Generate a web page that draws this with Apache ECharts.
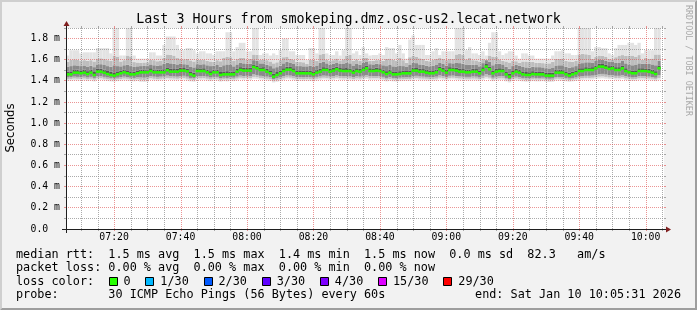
<!DOCTYPE html>
<html><head><meta charset="utf-8">
<script src="https://cdn.jsdelivr.net/npm/echarts@6/dist/echarts.min.js"></script>
<style>html,body{margin:0;padding:0;background:#f2f2f2}#c{width:697px;height:310px}</style>
</head><body><div id="c"></div>
<script>
// ---------------- data ----------------
const titleText = 'Last 3 Hours from smokeping.dmz.osc-us2.lecat.network';
const startTime = '07:05:31';
const endTime = '10:05:31';
const xTickLabels = ['07:20','07:40','08:00','08:20','08:40','09:00','09:20','09:40','10:00'];
const yMajor = [0,0.2,0.4,0.6,0.8,1.0,1.2,1.4,1.6,1.8];
const yMinor = [0.1,0.3,0.5,0.7,0.9,1.1,1.3,1.5,1.7,1.9];
const yMax = 1.9;

// median RTT per minute (ms)
const medianRtt = [
1.462,1.462,1.478,1.478,1.472,1.478,1.465,1.478,1.456,1.487,
1.487,1.478,1.465,1.456,1.450,1.462,1.472,1.481,1.472,1.462,
1.462,1.472,1.481,1.481,1.481,1.493,1.481,1.481,1.481,1.481,
1.500,1.487,1.487,1.487,1.497,1.497,1.490,1.462,1.450,1.493,
1.493,1.493,1.481,1.465,1.481,1.481,1.456,1.462,1.462,1.462,
1.462,1.487,1.503,1.497,1.497,1.497,1.531,1.519,1.503,1.503,
1.487,1.472,1.440,1.456,1.472,1.493,1.506,1.506,1.493,1.472,
1.472,1.472,1.472,1.472,1.462,1.478,1.487,1.503,1.503,1.487,
1.497,1.510,1.497,1.493,1.493,1.493,1.478,1.493,1.487,1.503,
1.519,1.493,1.493,1.497,1.493,1.481,1.465,1.478,1.462,1.462,
1.465,1.472,1.472,1.472,1.497,1.497,1.487,1.487,1.478,1.472,
1.472,1.481,1.510,1.497,1.478,1.503,1.503,1.497,1.487,1.487,
1.481,1.481,1.487,1.487,1.472,1.503,1.535,1.510,1.472,1.487,
1.493,1.493,1.462,1.440,1.472,1.487,1.478,1.462,1.456,1.456,
1.465,1.462,1.462,1.462,1.450,1.450,1.450,1.478,1.478,1.478,
1.462,1.450,1.462,1.472,1.493,1.493,1.503,1.503,1.503,1.519,
1.535,1.535,1.525,1.513,1.519,1.503,1.503,1.519,1.493,1.481,
1.472,1.472,1.493,1.493,1.493,1.487,1.478,1.465,1.520,null];

// lowest ping
const minRtt = [
1.400,1.402,1.405,1.404,1.402,1.405,1.400,1.404,1.395,1.408,
1.410,1.405,1.400,1.396,1.392,1.398,1.402,1.406,1.403,1.398,
1.396,1.400,1.392,1.390,1.394,1.410,1.405,1.402,1.404,1.406,
1.412,1.408,1.406,1.405,1.410,1.412,1.404,1.396,1.392,1.410,
1.408,1.410,1.404,1.398,1.405,1.404,1.394,1.398,1.396,1.400,
1.398,1.406,1.414,1.410,1.412,1.410,1.420,1.418,1.412,1.410,
1.405,1.400,1.385,1.392,1.398,1.408,1.415,1.414,1.408,1.400,
1.402,1.400,1.402,1.400,1.396,1.404,1.408,1.414,1.412,1.406,
1.410,1.416,1.410,1.408,1.410,1.406,1.402,1.408,1.405,1.412,
1.418,1.408,1.410,1.410,1.408,1.404,1.396,1.402,1.396,1.394,
1.398,1.400,1.402,1.400,1.410,1.412,1.406,1.405,1.404,1.400,
1.402,1.405,1.414,1.410,1.404,1.412,1.414,1.410,1.406,1.405,
1.404,1.404,1.406,1.405,1.400,1.410,1.420,1.414,1.398,1.405,
1.408,1.408,1.396,1.385,1.400,1.406,1.402,1.396,1.392,1.394,
1.398,1.396,1.396,1.398,1.392,1.390,1.392,1.404,1.404,1.402,
1.396,1.392,1.396,1.400,1.408,1.410,1.412,1.412,1.414,1.418,
1.422,1.424,1.420,1.416,1.418,1.412,1.412,1.418,1.408,1.404,
1.400,1.402,1.408,1.410,1.408,1.406,1.404,1.398,1.410,null];

// 4th lowest ping
const lo2 = [
1.416,1.418,1.422,1.420,1.418,1.422,1.416,1.420,1.412,1.424,
1.426,1.420,1.416,1.412,1.408,1.414,1.418,1.422,1.420,1.414,
1.412,1.416,1.410,1.408,1.412,1.426,1.420,1.418,1.420,1.422,
1.428,1.424,1.422,1.420,1.426,1.428,1.420,1.412,1.408,1.426,
1.424,1.426,1.420,1.414,1.420,1.420,1.410,1.414,1.412,1.416,
1.414,1.422,1.430,1.426,1.428,1.426,1.438,1.434,1.428,1.426,
1.420,1.416,1.402,1.408,1.414,1.424,1.432,1.430,1.424,1.416,
1.418,1.416,1.418,1.416,1.412,1.420,1.424,1.430,1.428,1.422,
1.426,1.432,1.426,1.424,1.426,1.422,1.418,1.424,1.421,1.428,
1.434,1.424,1.426,1.426,1.424,1.420,1.412,1.418,1.412,1.410,
1.414,1.416,1.418,1.416,1.426,1.428,1.422,1.421,1.420,1.416,
1.418,1.421,1.430,1.426,1.420,1.428,1.430,1.426,1.422,1.421,
1.420,1.420,1.422,1.421,1.416,1.426,1.438,1.430,1.414,1.421,
1.424,1.424,1.412,1.402,1.416,1.422,1.418,1.412,1.408,1.410,
1.414,1.412,1.412,1.414,1.408,1.406,1.408,1.420,1.420,1.418,
1.412,1.408,1.412,1.416,1.424,1.426,1.428,1.428,1.430,1.434,
1.440,1.442,1.438,1.432,1.434,1.428,1.428,1.434,1.424,1.420,
1.416,1.418,1.424,1.426,1.424,1.422,1.420,1.414,1.428,null];

// 8th lowest ping
const lo3 = [
1.432,1.434,1.440,1.438,1.436,1.440,1.432,1.438,1.428,1.444,
1.444,1.438,1.432,1.428,1.424,1.430,1.436,1.440,1.436,1.430,
1.428,1.434,1.432,1.430,1.434,1.446,1.440,1.438,1.440,1.442,
1.450,1.444,1.442,1.440,1.446,1.448,1.440,1.428,1.424,1.446,
1.444,1.446,1.440,1.432,1.438,1.438,1.426,1.430,1.428,1.432,
1.430,1.440,1.450,1.446,1.448,1.446,1.462,1.456,1.448,1.446,
1.440,1.434,1.418,1.424,1.432,1.444,1.452,1.450,1.444,1.434,
1.436,1.434,1.436,1.434,1.430,1.438,1.442,1.450,1.448,1.442,
1.446,1.452,1.446,1.444,1.446,1.442,1.436,1.444,1.440,1.448,
1.456,1.444,1.446,1.446,1.444,1.438,1.428,1.436,1.428,1.426,
1.430,1.432,1.434,1.432,1.446,1.448,1.442,1.440,1.438,1.434,
1.436,1.440,1.452,1.446,1.438,1.448,1.450,1.446,1.442,1.440,
1.438,1.438,1.442,1.440,1.432,1.448,1.464,1.452,1.430,1.440,
1.444,1.444,1.428,1.416,1.432,1.440,1.436,1.428,1.424,1.426,
1.430,1.428,1.428,1.430,1.422,1.420,1.422,1.436,1.436,1.434,
1.428,1.422,1.428,1.432,1.442,1.444,1.448,1.448,1.450,1.456,
1.464,1.466,1.460,1.454,1.456,1.448,1.448,1.456,1.444,1.438,
1.432,1.434,1.444,1.446,1.444,1.440,1.436,1.430,1.454,null];

// 12th lowest ping
const lo4 = [
1.450,1.451,1.466,1.465,1.460,1.466,1.453,1.466,1.445,1.474,
1.475,1.466,1.453,1.444,1.439,1.450,1.460,1.469,1.460,1.450,
1.450,1.460,1.468,1.469,1.470,1.480,1.469,1.469,1.470,1.469,
1.487,1.475,1.474,1.475,1.484,1.485,1.478,1.450,1.439,1.480,
1.481,1.480,1.469,1.453,1.469,1.470,1.445,1.450,1.451,1.450,
1.450,1.475,1.490,1.485,1.484,1.485,1.517,1.506,1.490,1.491,
1.475,1.460,1.429,1.444,1.460,1.480,1.493,1.494,1.481,1.460,
1.460,1.461,1.460,1.460,1.450,1.466,1.475,1.490,1.491,1.475,
1.485,1.497,1.485,1.481,1.480,1.481,1.466,1.480,1.475,1.490,
1.506,1.481,1.480,1.485,1.481,1.469,1.453,1.466,1.450,1.451,
1.453,1.460,1.461,1.460,1.484,1.485,1.475,1.474,1.466,1.460,
1.461,1.469,1.497,1.485,1.466,1.490,1.491,1.485,1.475,1.474,
1.469,1.470,1.475,1.474,1.460,1.490,1.521,1.497,1.460,1.475,
1.480,1.481,1.450,1.429,1.460,1.475,1.466,1.450,1.445,1.444,
1.453,1.450,1.451,1.450,1.439,1.438,1.439,1.466,1.465,1.466,
1.450,1.439,1.450,1.460,1.480,1.481,1.490,1.491,1.490,1.506,
1.521,1.522,1.512,1.500,1.506,1.490,1.491,1.506,1.480,1.469,
1.460,1.461,1.480,1.481,1.480,1.475,1.466,1.453,1.506,null];

// 12th highest ping
const hi4 = [
1.488,1.490,1.504,1.506,1.498,1.505,1.492,1.504,1.484,1.514,
1.515,1.506,1.494,1.486,1.480,1.490,1.498,1.508,1.500,1.490,
1.488,1.498,1.506,1.508,1.505,1.520,1.508,1.506,1.508,1.510,
1.528,1.514,1.512,1.514,1.524,1.522,1.516,1.490,1.478,1.520,
1.518,1.520,1.508,1.492,1.506,1.508,1.484,1.490,1.492,1.488,
1.490,1.514,1.530,1.524,1.522,1.524,1.556,1.546,1.528,1.530,
1.514,1.500,1.470,1.484,1.498,1.520,1.534,1.532,1.520,1.498,
1.500,1.498,1.500,1.498,1.490,1.504,1.514,1.530,1.528,1.514,
1.524,1.536,1.522,1.520,1.522,1.518,1.504,1.520,1.514,1.530,
1.546,1.520,1.518,1.524,1.520,1.508,1.492,1.504,1.490,1.490,
1.492,1.498,1.500,1.498,1.524,1.522,1.514,1.512,1.504,1.498,
1.500,1.508,1.536,1.524,1.504,1.530,1.528,1.524,1.514,1.512,
1.508,1.508,1.514,1.512,1.498,1.530,1.560,1.536,1.498,1.514,
1.520,1.518,1.490,1.468,1.498,1.514,1.504,1.490,1.484,1.482,
1.492,1.488,1.490,1.488,1.478,1.476,1.478,1.504,1.506,1.504,
1.490,1.478,1.488,1.498,1.520,1.520,1.530,1.528,1.530,1.546,
1.562,1.560,1.552,1.540,1.546,1.530,1.530,1.546,1.520,1.508,
1.498,1.500,1.520,1.520,1.518,1.514,1.506,1.492,1.546,null];

// 8th highest ping
const hi3 = [
1.532,1.540,1.548,1.546,1.540,1.546,1.536,1.544,1.530,1.556,
1.558,1.550,1.540,1.534,1.548,1.540,1.538,1.548,1.552,1.540,
1.532,1.538,1.540,1.542,1.540,1.556,1.548,1.544,1.548,1.560,
1.572,1.566,1.562,1.556,1.560,1.558,1.556,1.536,1.528,1.558,
1.556,1.558,1.548,1.540,1.544,1.550,1.534,1.548,1.556,1.550,
1.538,1.556,1.570,1.566,1.560,1.564,1.596,1.590,1.566,1.566,
1.552,1.540,1.520,1.530,1.544,1.566,1.580,1.574,1.560,1.540,
1.540,1.538,1.538,1.544,1.536,1.546,1.572,1.580,1.566,1.552,
1.562,1.574,1.560,1.560,1.570,1.566,1.546,1.560,1.552,1.572,
1.584,1.558,1.556,1.562,1.558,1.548,1.540,1.550,1.538,1.536,
1.546,1.540,1.536,1.550,1.572,1.568,1.556,1.552,1.544,1.538,
1.542,1.550,1.574,1.564,1.546,1.568,1.566,1.574,1.568,1.562,
1.550,1.554,1.552,1.550,1.538,1.568,1.596,1.580,1.548,1.560,
1.562,1.556,1.534,1.516,1.540,1.554,1.544,1.532,1.528,1.526,
1.534,1.530,1.530,1.528,1.520,1.518,1.522,1.546,1.548,1.548,
1.534,1.524,1.530,1.540,1.566,1.568,1.576,1.576,1.570,1.588,
1.604,1.600,1.592,1.580,1.584,1.570,1.574,1.590,1.566,1.556,
1.548,1.550,1.566,1.562,1.560,1.560,1.556,1.548,1.590,null];

// 4th highest ping
const hi2 = [
1.580,1.600,1.604,1.600,1.590,1.596,1.590,1.596,1.584,1.612,
1.614,1.606,1.596,1.588,1.640,1.630,1.584,1.596,1.640,1.632,
1.578,1.574,1.572,1.574,1.576,1.600,1.596,1.586,1.592,1.620,
1.650,1.646,1.640,1.616,1.606,1.604,1.608,1.594,1.584,1.598,
1.600,1.602,1.590,1.584,1.580,1.596,1.586,1.620,1.630,1.624,
1.588,1.606,1.620,1.618,1.600,1.610,1.650,1.648,1.600,1.604,
1.596,1.584,1.566,1.576,1.596,1.624,1.630,1.610,1.600,1.580,
1.578,1.576,1.560,1.600,1.598,1.590,1.650,1.656,1.602,1.590,
1.596,1.612,1.594,1.604,1.640,1.646,1.592,1.604,1.588,1.616,
1.618,1.590,1.590,1.596,1.600,1.590,1.610,1.612,1.600,1.588,
1.620,1.596,1.570,1.624,1.640,1.626,1.614,1.608,1.590,1.586,
1.600,1.610,1.616,1.608,1.596,1.610,1.608,1.650,1.656,1.646,
1.604,1.616,1.596,1.594,1.584,1.606,1.600,1.640,1.630,1.628,
1.604,1.590,1.584,1.574,1.590,1.586,1.570,1.584,1.584,1.578,
1.580,1.572,1.570,1.568,1.566,1.566,1.580,1.610,1.608,1.612,
1.590,1.584,1.580,1.588,1.650,1.656,1.652,1.646,1.610,1.630,
1.640,1.636,1.630,1.610,1.604,1.624,1.640,1.644,1.636,1.640,
1.640,1.630,1.644,1.600,1.616,1.610,1.612,1.650,1.650,null];

// highest ping
const maxRtt = [
1.64,1.69,1.69,1.69,1.66,1.67,1.67,1.67,1.67,1.71,
1.71,1.71,1.71,1.66,1.95,1.95,1.64,1.64,1.95,1.95,
1.64,1.61,1.61,1.61,1.61,1.67,1.67,1.64,1.64,1.74,
1.82,1.82,1.82,1.74,1.69,1.69,1.71,1.71,1.69,1.66,
1.68,1.68,1.66,1.66,1.645,1.68,1.68,1.68,1.86,1.86,
1.68,1.72,1.76,1.76,1.68,1.68,1.95,1.95,1.645,1.66,
1.66,1.64,1.66,1.645,1.69,1.80,1.80,1.68,1.68,1.645,
1.645,1.645,1.60,1.71,1.71,1.66,1.95,1.95,1.66,1.645,
1.645,1.68,1.64,1.69,1.95,1.95,1.66,1.68,1.645,1.72,
1.66,1.64,1.645,1.645,1.66,1.645,1.72,1.71,1.71,1.66,
1.74,1.66,1.61,1.79,1.83,1.74,1.74,1.74,1.645,1.645,
1.68,1.71,1.645,1.68,1.68,1.68,1.68,1.95,1.95,1.95,
1.69,1.72,1.66,1.66,1.645,1.68,1.64,1.76,1.86,1.86,
1.68,1.645,1.66,1.68,1.68,1.64,1.61,1.66,1.66,1.64,
1.64,1.61,1.61,1.61,1.61,1.61,1.64,1.68,1.68,1.69,
1.66,1.66,1.645,1.645,1.95,1.95,1.95,1.95,1.68,1.72,
1.72,1.71,1.71,1.66,1.645,1.71,1.74,1.74,1.74,1.76,
1.76,1.74,1.76,1.66,1.69,1.69,1.69,1.95,1.95,null];

const lossLabels = ['0','1/30','2/30','3/30','4/30','15/30','29/30'];
const lossColors = ['#26ff00','#00b8ff','#0059ff','#5e00ff','#7e00ff','#dd00ff','#ff0000'];
const legendRows = [
  'median rtt:  1.5 ms avg  1.5 ms max  1.4 ms min  1.5 ms now  0.0 ms sd  82.3   am/s',
  'packet loss: 0.00 % avg  0.00 % max  0.00 % min  0.00 % now',
  'loss color:',
  'probe:       30 ICMP Echo Pings (56 Bytes) every 60s'
];
const endText = 'end: Sat Jan 10 10:05:31 2026';

// ---------------- chart ----------------
const MONO = '"DejaVu Sans Mono", monospace';
const GRID_COL = 'rgba(143,143,143,0.75)';
const MGRID_COL = 'rgba(222,79,79,0.6)';
const G = {left: 66, top: 28, width: 598, height: 201};
const X0 = G.left, Y0 = G.top + G.height, X1 = G.left + G.width, Y1 = G.top;

function toSec(s){ const p = s.split(':').map(Number); return p[0]*3600 + p[1]*60 + (p[2]||0); }
function hhmm(t){ const h = Math.floor(t/3600), m = Math.floor((t%3600)/60); return String(h).padStart(2,'0') + ':' + String(m).padStart(2,'0'); }

const t0 = toSec(startTime), t1 = toSec(endTime);
const xMajor = xTickLabels.map(toSec);
const xMinor = [];
for (let t = Math.ceil(t0/300)*300; t <= t1; t += 300) if (xMajor.indexOf(t) < 0) xMinor.push(t);
const cats = medianRtt.map((_, i) => hhmm(t0 + 30 + 60*i));

const bounds = [minRtt, lo2, lo3, lo4, hi4, hi3, hi2, maxRtt];
const smokeColors = ['#e3e3e3','#bdbdbd','#8a8a8a','#585858','#8a8a8a','#bdbdbd','#e3e3e3'];
const barCommon = {type:'bar', barWidth:'100%', barGap:'-100%', silent:true, clip:true, xAxisIndex:0, yAxisIndex:0, animation:false};

const series = [];
series.push(Object.assign({}, barCommon, {stack:'smoke', z:1, data:minRtt, itemStyle:{color:'rgba(0,0,0,0)'}}));
for (let k = 0; k < 7; k++) {
  series.push(Object.assign({}, barCommon, {stack:'smoke', z:1,
    data: bounds[k].map((v, i) => (v == null || bounds[k+1][i] == null) ? null : +(bounds[k+1][i] - v).toFixed(4)),
    itemStyle:{color: smokeColors[k]}}));
}
const halfBand = 0.012;
series.push(Object.assign({}, barCommon, {stack:'median', z:5, data: medianRtt.map(v => v == null ? null : v - halfBand), itemStyle:{color:'rgba(0,0,0,0)'}}));
series.push(Object.assign({}, barCommon, {stack:'median', z:5, data: medianRtt.map(v => v == null ? null : 2*halfBand), itemStyle:{color: lossColors[0]}}));

const xAxes = [
  {type:'category', data:cats, show:false, boundaryGap:true, position:'bottom'},
  {type:'value', min:t0, max:t1, position:'bottom', axisLine:{show:false}, axisTick:{show:false}, splitLine:{show:false},
    axisLabel:{show:true, customValues:xMajor, formatter: v => hhmm(v), color:'#000', fontFamily:MONO, fontSize:9.8, margin:3}}
];
const yAxes = [
  {type:'value', min:0, max:yMax, position:'left', axisLine:{show:false}, axisTick:{show:false}, splitLine:{show:false},
    axisLabel:{show:true, customValues:yMajor, formatter: v => v === 0 ? '0.0  ' : v.toFixed(1) + ' m', color:'#000', fontFamily:MONO, fontSize:9.8, margin:6}}
];

// legend / decoration graphics
const W = 697, H = 310;
const CW = 7.12, FS = '11.8px ' + MONO, ROW_Y = [254.5, 268, 281.5, 295], TX = 16;
const gfx = [];
gfx.push({type:'polygon', z:20, silent:true, shape:{points:[[0,H],[2,H-2],[2,2],[W-2,2],[W,0],[0,0]]}, style:{fill:'#cfcfcf'}});
gfx.push({type:'polygon', z:20, silent:true, shape:{points:[[2,H-2],[W-2,H-2],[W-2,2],[W,0],[W,H],[0,H]]}, style:{fill:'#9e9e9e'}});
gfx.push({type:'text', z:20, silent:true, x:W/2, y:19.5, style:{text:titleText, font:'13.3px ' + MONO, fill:'#000', align:'center', verticalAlign:'middle'}});
gfx.push({type:'text', z:20, silent:true, x:11, y:128, rotation:Math.PI/2, style:{text:'Seconds', font:'11.7px "DejaVu Sans"', fill:'#000', align:'center', verticalAlign:'middle'}});
gfx.push({type:'text', z:20, silent:true, x:688, y:5, rotation:-Math.PI/2, style:{text:'RRDTOOL / TOBI OETIKER', font:'8.4px ' + MONO, fill:'#a9a9a9', align:'left', verticalAlign:'middle'}});
// axes with arrows
gfx.push({type:'line', z:20, silent:true, shape:{x1:X0-4, y1:Y0+0.5, x2:X1+4, y2:Y0+0.5}, style:{stroke:'#1f1f1f', lineWidth:1}});
gfx.push({type:'line', z:20, silent:true, shape:{x1:X0+0.5, y1:Y0+4, x2:X0+0.5, y2:Y1-4}, style:{stroke:'#1f1f1f', lineWidth:1}});
gfx.push({type:'polygon', z:21, silent:true, shape:{points:[[X1+2,Y0-2.5],[X1+2,Y0+3.5],[X1+7,Y0+0.5]]}, style:{fill:'#801f1f'}});
gfx.push({type:'polygon', z:21, silent:true, shape:{points:[[X0-2.5,Y1-2],[X0+3.5,Y1-2],[X0+0.5,Y1-7]]}, style:{fill:'#801f1f'}});
// legend rows
legendRows.forEach((t, r) => gfx.push({type:'text', z:20, silent:true, x:TX, y:ROW_Y[r], style:{text:t, font:FS, fill:'#000', align:'left', verticalAlign:'middle'}}));
gfx.push({type:'text', z:20, silent:true, x:681, y:ROW_Y[3], style:{text:endText, font:FS, fill:'#000', align:'right', verticalAlign:'middle'}});
let bx = TX + 13*CW;
lossLabels.forEach((lab, k) => {
  gfx.push({type:'rect', z:20, silent:true, shape:{x:Math.round(bx)+0.5, y:Math.round(ROW_Y[2]-4.5)+0.5, width:8, height:8}, style:{fill:lossColors[k], stroke:'#000', lineWidth:1}});
  gfx.push({type:'text', z:20, silent:true, x:bx + 15, y:ROW_Y[2], style:{text:lab, font:FS, fill:'#000', align:'left', verticalAlign:'middle'}});
  bx += (lab.length + 4)*CW + 1.2;
});

const chart = echarts.init(document.getElementById('c'), null, {renderer:'canvas'});
chart.setOption({
  animation:false,
  backgroundColor:'#f2f2f2',
  grid:{left:G.left, top:G.top, width:G.width, height:G.height, show:true, backgroundColor:'#ffffff', borderWidth:0, containLabel:false},
  xAxis:xAxes,
  yAxis:yAxes,
  series:series,
  graphic:{elements:gfx}
});

// grid lines placed through the axes' own scales, snapped to whole pixels
const snapX = p => Math.round(p) + 0.5;
const snapY = p => Math.floor(p) + 0.5;
const gridGfx = [];
function vLine(t, col) {
  const x = snapX(chart.convertToPixel({xAxisIndex:1}, t));
  gridGfx.push({type:'line', z:3, silent:true, shape:{x1:x, y1:Y0, x2:x, y2:Y1}, style:{stroke:col, lineWidth:1, lineDash:[1,1]}});
  gridGfx.push({type:'line', z:3, silent:true, shape:{x1:x, y1:Y1-2, x2:x, y2:Y1}, style:{stroke:col, lineWidth:1}});
  gridGfx.push({type:'line', z:3, silent:true, shape:{x1:x, y1:Y0, x2:x, y2:Y0+2}, style:{stroke:col, lineWidth:1}});
}
function hLine(v, col) {
  const y = snapY(chart.convertToPixel({yAxisIndex:0}, v));
  gridGfx.push({type:'line', z:3, silent:true, shape:{x1:X0, y1:y, x2:X1, y2:y}, style:{stroke:col, lineWidth:1, lineDash:[1,1]}});
  gridGfx.push({type:'line', z:3, silent:true, shape:{x1:X0-2, y1:y, x2:X0, y2:y}, style:{stroke:col, lineWidth:1}});
  gridGfx.push({type:'line', z:3, silent:true, shape:{x1:X1, y1:y, x2:X1+2, y2:y}, style:{stroke:col, lineWidth:1}});
}
xMinor.forEach(t => vLine(t, GRID_COL));
yMinor.forEach(v => hLine(v, GRID_COL));
xMajor.forEach(t => vLine(t, MGRID_COL));
yMajor.filter(v => v > 0).forEach(v => hLine(v, MGRID_COL));
chart.setOption({graphic:{elements: gfx.concat(gridGfx)}});
</script>
</body></html>
